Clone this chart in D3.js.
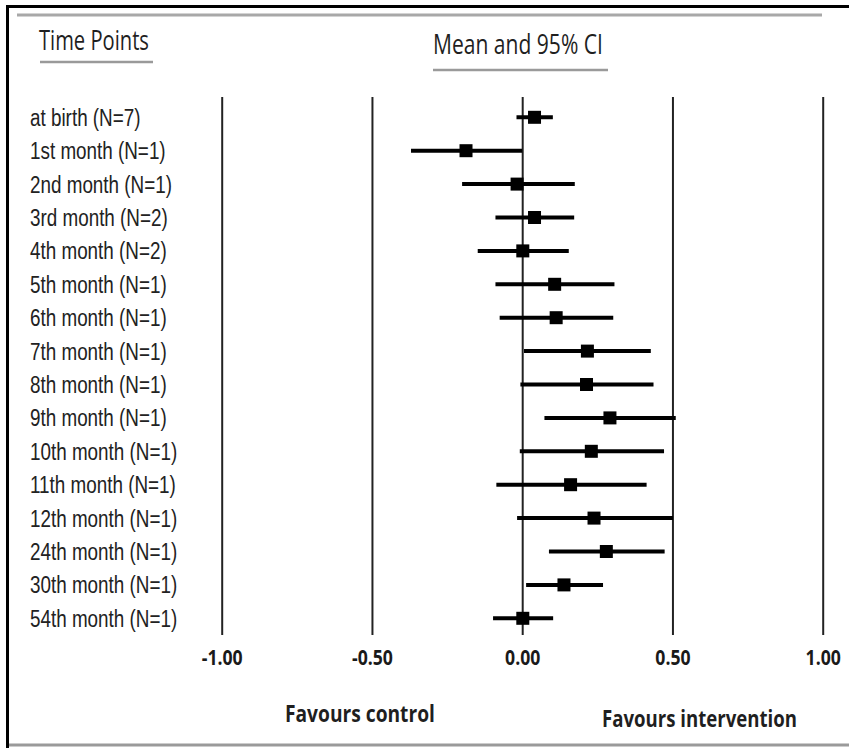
<!DOCTYPE html>
<html>
<head>
<meta charset="utf-8">
<script src="https://cdn.jsdelivr.net/npm/d3@7"></script>
<style>
  html, body { margin: 0; padding: 0; background: #fff; }
  svg { display: block; }
</style>
</head>
<body>
<script>
// time points (rows, top to bottom)
const timePoints = ["at birth (N=7)", "1st month (N=1)", "2nd month (N=1)", "3rd month (N=2)",
    "4th month (N=2)", "5th month (N=1)", "6th month (N=1)", "7th month (N=1)", "8th month (N=1)",
    "9th month (N=1)", "10th month (N=1)", "11th month (N=1)", "12th month (N=1)",
    "24th month (N=1)", "30th month (N=1)", "54th month (N=1)"];
// mean and 95% CI
const means = [0.041, -0.187, -0.017, 0.041, 0.002, 0.108, 0.113, 0.217, 0.214, 0.292, 0.230, 0.161, 0.239, 0.280, 0.139, 0.002];
const lower = [-0.019, -0.370, -0.200, -0.089, -0.148, -0.089, -0.075, 0.006, -0.006, 0.074, -0.008, -0.086, -0.017, 0.089, 0.013, -0.097];
const upper = [0.102, 0.000, 0.175, 0.173, 0.155, 0.307, 0.303, 0.428, 0.437, 0.511, 0.472, 0.414, 0.502, 0.474, 0.269, 0.103];
const tickValues = [-1, -0.5, 0, 0.5, 1];
const tickLabels = ["-1.00", "-0.50", "0.00", "0.50", "1.00"];

const width = 849, height = 748;
const gridTop = 97, gridBottom = 635;

const rows = timePoints.map((t, i) => ({ label: t, mean: means[i], lo: lower[i], hi: upper[i] }));

const svg = d3.select("body").append("svg")
    .attr("width", width)
    .attr("height", height);

const x = d3.scaleLinear().domain([-1, 1]).range([221.7, 822.7]);
const y = d3.scalePoint().domain(timePoints).range([117.3, 618.3]);

// frame
svg.append("line").attr("x1", 6).attr("x2", width).attr("y1", 6.5).attr("y2", 6.5)
    .attr("stroke", "#000").attr("stroke-width", 3);
svg.append("line").attr("x1", 7.5).attr("x2", 7.5).attr("y1", 5).attr("y2", height)
    .attr("stroke", "#000").attr("stroke-width", 3);
svg.append("line").attr("x1", 17).attr("x2", 822).attr("y1", 15).attr("y2", 15)
    .attr("stroke", "#a8a8a8").attr("stroke-width", 3);
svg.append("line").attr("x1", 9).attr("x2", width).attr("y1", 745).attr("y2", 745)
    .attr("stroke", "#9a9a9a").attr("stroke-width", 3);

const headFont = "'Open Sans', 'Noto Sans', sans-serif";

// squeeze a text horizontally so that it fills `w` px from x0
function fitText(txt, x0, y0, w, size, weight) {
    const t = svg.append("text")
        .attr("font-family", headFont).attr("font-size", size)
        .attr("font-weight", weight).attr("fill", "#1f1f1f")
        .text(txt);
    const k = w / t.node().getComputedTextLength();
    t.attr("transform", `translate(${x0},${y0}) scale(${k},1)`);
    return t;
}

// headers
fitText("Time Points", 39, 50, 110, 27, "normal");
svg.append("line").attr("x1", 40).attr("x2", 153).attr("y1", 62).attr("y2", 62)
    .attr("stroke", "#9a9a9a").attr("stroke-width", 2.5);
fitText("Mean and 95% CI", 433, 54, 170, 27, "normal");
svg.append("line").attr("x1", 433).attr("x2", 608).attr("y1", 70).attr("y2", 70)
    .attr("stroke", "#9a9a9a").attr("stroke-width", 2.5);

// vertical reference lines + tick labels
const axis = svg.append("g")
    .attr("transform", `translate(0,${gridBottom})`)
    .call(d3.axisBottom(x)
        .tickValues(tickValues)
        .tickFormat((d, i) => tickLabels[i])
        .tickSize(-(gridBottom - gridTop))
        .tickPadding(14));
axis.select(".domain").remove();
axis.selectAll(".tick line").attr("stroke", "#222").attr("stroke-width", 2);
axis.selectAll(".tick text")
    .attr("font-family", headFont).attr("font-weight", "bold").attr("font-size", 22)
    .attr("fill", "#1a1a1a")
    .attr("transform", "scale(0.8,1)");

// row labels
const labels = svg.append("g").attr("transform", "translate(30,0) scale(0.82,1)");
labels.selectAll("text")
    .data(rows)
    .join("text")
    .attr("x", 0)
    .attr("y", d => y(d.label) + 8.5)
    .attr("font-family", "'Liberation Sans', Arial, sans-serif")
    .attr("font-size", 23)
    .attr("fill", "#222")
    .text(d => d.label);

// CIs
const marks = svg.append("g");
marks.selectAll("line.ci")
    .data(rows)
    .join("line")
    .attr("class", "ci")
    .attr("x1", d => x(d.lo))
    .attr("x2", d => x(d.hi))
    .attr("y1", d => y(d.label))
    .attr("y2", d => y(d.label))
    .attr("stroke", "#000")
    .attr("stroke-width", 4);

const sq = 13;
marks.selectAll("rect")
    .data(rows)
    .join("rect")
    .attr("x", d => x(d.mean) - sq / 2)
    .attr("y", d => y(d.label) - sq / 2)
    .attr("width", sq)
    .attr("height", sq)
    .attr("fill", "#000");

// footer
fitText("Favours control", 285, 722, 150, 24, "bold");
fitText("Favours intervention", 602, 727, 195, 24, "bold");
</script>
</body>
</html>
